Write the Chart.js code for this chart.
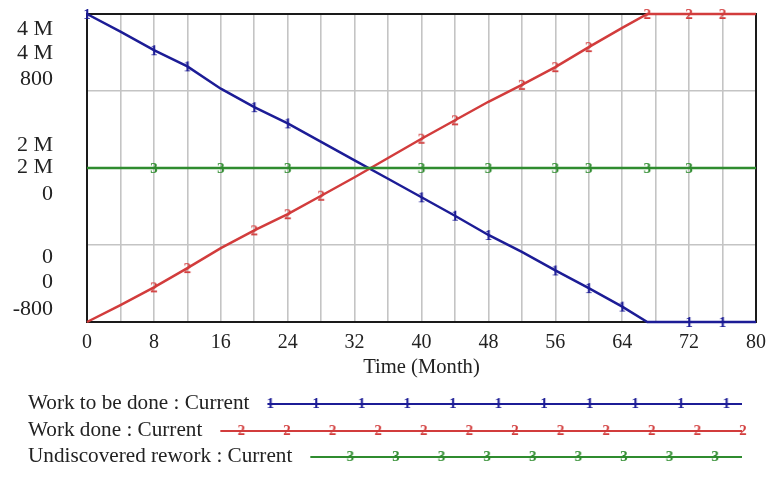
<!DOCTYPE html>
<html>
<head>
<meta charset="utf-8">
<script src="https://cdn.jsdelivr.net/npm/chart.js@4/dist/chart.umd.min.js"></script>
<style>
  html, body { margin: 0; padding: 0; background: #ffffff; }
  #wrap { width: 776px; height: 477px; }
</style>
</head>
<body>
<div id="wrap"><canvas id="c" width="776" height="477"></canvas></div>
<script>
// Simulation time (months)
const months = [0, 4, 8, 12, 16, 20, 24, 28, 32, 36, 40, 44, 48, 52, 56, 60, 64, 67, 72, 76, 80];

// Work to be done : Current
const workToBeDone = [4000000, 3770000, 3530000, 3320000, 3030000, 2790000, 2580000, 2340000, 2100000, 1860000,
  1620000, 1380000, 1130000, 910000, 670000, 440000, 200000, 0, 0, 0, 0];

// Work done : Current
const workDone = [0, 220000, 450000, 700000, 960000, 1190000, 1400000, 1640000, 1880000, 2130000,
  2380000, 2620000, 2860000, 3080000, 3310000, 3570000, 3820000, 4000000, 4000000, 4000000, 4000000];

// Undiscovered rework : Current
const undiscoveredRework = [0, 0, 0, 0, 0, 0, 0, 0, 0, 0, 0, 0, 0, 0, 0, 0, 0, 0, 0, 0, 0];

const seriesNames = ['Work to be done : Current', 'Work done : Current', 'Undiscovered rework : Current'];
const seriesTags = ['1', '2', '3'];

// Stacked value labels for the three variables at top / middle / bottom of the plot
const yLabelsTop = ['4 M', '4 M', '800'];
const yLabelsMid = ['2 M', '2 M', '0'];
const yLabelsBottom = ['0', '0', '-800'];
const yLabelValues = [4000000, 2000000, 0];

const xTitle = 'Time (Month)';

// which samples carry the numbered run tags
const tagIdx = [
  [0, 2, 3, 5, 6, 10, 11, 12, 14, 15, 16, 18, 19],
  [2, 3, 5, 6, 7, 10, 11, 13, 14, 15, 17, 18, 19],
  [2, 4, 6, 10, 12, 14, 15, 17, 18]
];

const colors = ['#1c1c96', '#d23c3c', '#2f8c2f'];
const SERIF = "'Liberation Serif', 'DejaVu Serif', serif";

function tagCanvas(ch, color) {
  const cv = document.createElement('canvas');
  cv.width = 14; cv.height = 18;
  const g = cv.getContext('2d');
  g.fillStyle = color;
  g.font = 'bold 15px ' + SERIF;
  g.textAlign = 'center';
  g.textBaseline = 'middle';
  g.fillText(ch, 7, 10);
  return cv;
}

function pts(arr) { return months.map((m, i) => ({ x: m, y: arr[i] })); }

const tagImgs = seriesTags.map((t, i) => tagCanvas(t, colors[i]));

// draw text stretched horizontally by factor sx, anchored at (x, y)
function wideText(ctx, t, x, y, sx) {
  ctx.save();
  ctx.translate(x, y);
  ctx.scale(sx, 1);
  ctx.fillText(t, 0, 0);
  ctx.restore();
}

const frame = {
  id: 'frame',
  beforeDatasetsDraw(chart) {
    const a = chart.chartArea, ctx = chart.ctx;
    ctx.save();
    ctx.strokeStyle = '#1a1a1a';
    ctx.lineWidth = 2;
    ctx.strokeRect(a.left, a.top, a.right - a.left, a.bottom - a.top);
    ctx.restore();
  }
};

const labels = {
  id: 'labels',
  afterDraw(chart) {
    const ctx = chart.ctx, y = chart.scales.y, a = chart.chartArea;
    ctx.save();
    ctx.fillStyle = '#222';
    ctx.font = '20px ' + SERIF;
    ctx.textAlign = 'right';
    ctx.textBaseline = 'middle';
    const groups = [yLabelsTop, yLabelsMid, yLabelsBottom];
    const offs = [[16, 40, 66], [-22, 0, 27], [-64, -39, -12]];
    groups.forEach((g, gi) => {
      const py = y.getPixelForValue(yLabelValues[gi]);
      g.forEach((t, li) => wideText(ctx, t, 53, py + offs[gi][li], 1.1));
    });

    // x axis title
    ctx.textAlign = 'center';
    wideText(ctx, xTitle, (a.left + a.right) / 2, 368, 1.03);

    // legend: name followed by a tagged line sample
    const rows = [404, 431, 457];
    const tagStart = [3, 21, 40];
    const sx = 1.06;
    ctx.textAlign = 'left';
    seriesNames.forEach((n, i) => {
      const ry = rows[i];
      ctx.fillStyle = '#222';
      wideText(ctx, n, 28, ry, sx);
      const x0 = 28 + ctx.measureText(n).width * sx + 18;
      const x1 = 742;
      ctx.strokeStyle = colors[i];
      ctx.lineWidth = 2;
      ctx.beginPath(); ctx.moveTo(x0, ry); ctx.lineTo(x1, ry); ctx.stroke();
      for (let x = x0 + tagStart[i]; x <= x1 + 3; x += 45.6) {
        ctx.drawImage(tagImgs[i], x - 7, ry - 10);
      }
    });
    ctx.restore();
  }
};

function ds(i, data, axis) {
  return {
    label: seriesNames[i],
    data: pts(data),
    yAxisID: axis,
    borderColor: colors[i],
    borderWidth: 2.5,
    tension: 0,
    pointStyle: tagImgs[i],
    pointRadius: ctx => tagIdx[i].includes(ctx.dataIndex) ? 7 : 0,
    clip: false
  };
}

new Chart(document.getElementById('c'), {
  type: 'line',
  data: {
    datasets: [
      ds(2, undiscoveredRework, 'y2'),
      ds(1, workDone, 'y'),
      ds(0, workToBeDone, 'y')
    ]
  },
  options: {
    responsive: false,
    animation: false,
    events: [],
    layout: { padding: { top: 14, right: 20, left: 0, bottom: 0 } },
    plugins: { legend: { display: false }, tooltip: { enabled: false } },
    scales: {
      x: {
        type: 'linear',
        min: 0, max: 80,
        afterFit(s) { s.height = 155; },
        ticks: {
          stepSize: 4,
          autoSkip: false,
          maxRotation: 0,
          padding: 9,
          color: '#222',
          font: { family: SERIF, size: 20 },
          callback: v => (v % 8 === 0 ? String(v) : '')
        },
        grid: { color: '#c4c4c4', lineWidth: 1.6, drawTicks: false },
        border: { display: true, color: '#1a1a1a', width: 2 }
      },
      y: {
        min: 0, max: 4000000,
        afterFit(s) { s.width = 87; },
        ticks: { display: false, stepSize: 1000000 },
        grid: { color: '#c4c4c4', lineWidth: 1.6, drawTicks: false },
        border: { display: true, color: '#1a1a1a', width: 2 }
      },
      y2: {
        display: false,
        min: -800, max: 800
      }
    }
  },
  plugins: [frame, labels]
});
</script>
</body>
</html>
